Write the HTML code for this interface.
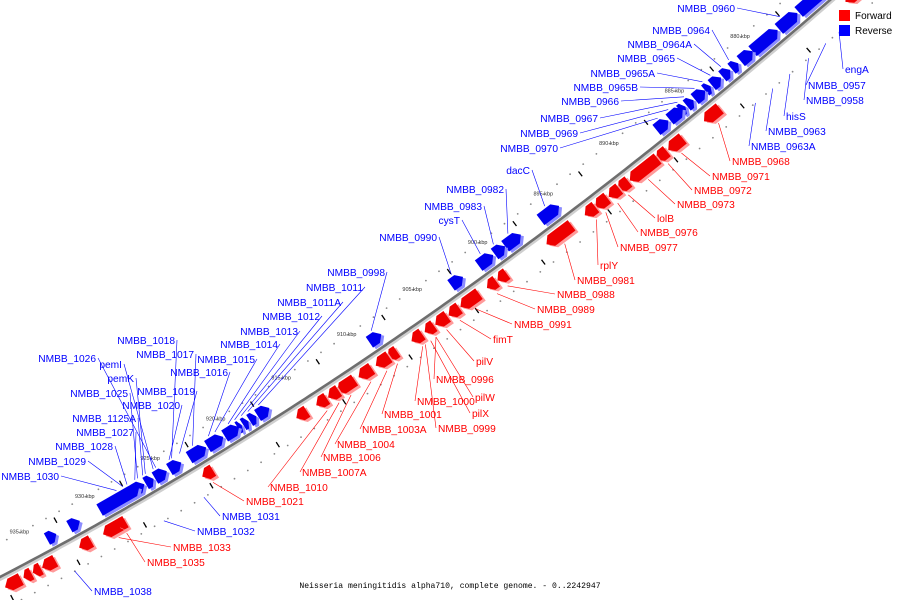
<!DOCTYPE html>
<html><head><meta charset="utf-8"><style>
html,body{margin:0;padding:0;background:#fff;}
svg{display:block;font-family:"Liberation Sans",sans-serif;}
</style></head><body>
<svg id="chart" width="900" height="600" viewBox="0 0 900 600" xmlns="http://www.w3.org/2000/svg">
<g id="backbone-layer"></g>
<g id="tick-layer"></g>
<g id="gene-layer"></g>
<g id="label-layer"></g>
<g>
<rect x="839" y="10" width="11" height="11" fill="#ff0000"/>
<text x="855" y="19" font-size="10" fill="#000">Forward</text>
<rect x="839" y="25" width="11" height="11" fill="#0000ff"/>
<text x="855" y="34" font-size="10" fill="#000">Reverse</text>
</g>
<text x="450" y="588" text-anchor="middle" font-size="8.1" font-family="Liberation Mono, monospace" fill="#000">Neisseria meningitidis alpha710, complete genome. - 0..2242947</text>
</svg>
<script>
// ---- data ----
const tickKbp = [880,885,890,895,900,905,910,915,920,925,930,935];
const revStart = [873.2,874.3,876.6,878.1,880.0,881.1,881.7,882.4,883.2,883.6,884.5,885.1,885.3,886.4,894.7,897.6,898.8,899.7,902.0,908.2,916.7,917.7,918.3,918.8,919.2,919.0,920.2,921.5,923.4,924.5,925.5,926.2,926.6,931.1,932.9];
const revEnd   = [874.2,876.5,878.0,880.0,880.9,881.6,882.3,883.1,883.6,884.4,885.0,885.5,886.3,887.3,896.1,898.8,899.6,900.8,902.9,909.1,917.6,918.2,918.7,919.1,919.7,920.1,921.4,922.8,924.3,925.4,926.1,927.0,929.6,931.9,933.6];
const fwdStart = [873.2,883.6,886.4,887.6,888.3,890.5,891.2,892.1,893.0,894.8,899.7,900.5,901.8,903.3,904.2,905.2,906.1,908.0,908.6,909.9,911.2,912.4,913.3,914.8,921.9,928.7,928.5,931.1,933.8,934.9,935.6,936.4];
const fwdEnd   = [874.1,884.8,887.5,888.4,890.4,891.3,892.0,893.0,893.8,896.7,900.4,901.2,903.2,904.1,905.1,905.9,906.9,908.7,909.6,910.9,912.5,913.2,914.1,915.6,922.7,930.2,929.1,932.0,934.8,935.5,936.2,937.6];
const revLeftLabels = ["NMBB_0960","NMBB_0964","NMBB_0964A","NMBB_0965","NMBB_0965A","NMBB_0965B","NMBB_0966","NMBB_0967","NMBB_0969","NMBB_0970","dacC","NMBB_0982","NMBB_0983","cysT","NMBB_0990","NMBB_0998","NMBB_1011","NMBB_1011A","NMBB_1012","NMBB_1013","NMBB_1014","NMBB_1018","NMBB_1017","NMBB_1015","NMBB_1016","NMBB_1026","pemI","pemK","NMBB_1025","NMBB_1019","NMBB_1020","NMBB_1125A","NMBB_1027","NMBB_1028","NMBB_1029","NMBB_1030"];
const revLeftTarget = [877.5,881.4,882.0,882.8,883.4,884.0,884.8,885.3,886.0,886.8,895.4,898.2,899.3,900.3,902.5,908.6,917.2,918.0,918.5,919.0,919.5,923.8,922.2,920.5,921.0,925.0,925.2,925.8,926.4,923.2,924.0,926.0,926.6,927.2,927.5,928.0];
const revLeftX = [735,710,692,675,655,638,619,598,578,558,530,504,482,460,437,385,363,341,320,298,278,175,194,255,228,96,122,134,128,195,180,136,134,113,86,59];
const revLeftY = [12,34,48,62,77,91,105,122,137,152,174,193,210,224,241,276,291,306,320,335,348,344,358,363,376,362,368,382,397,395,409,422,436,450,465,480];
const rightLabels = ["engA","NMBB_0957","NMBB_0958","hisS","NMBB_0963","NMBB_0963A","NMBB_1031","NMBB_1032","NMBB_1038","NMBB_0968","NMBB_0971","NMBB_0972","NMBB_0973","lolB","NMBB_0976","NMBB_0977","rplY","NMBB_0981","NMBB_0988","NMBB_0989","NMBB_0991","fimT","pilV","NMBB_0996","pilW","NMBB_1000","pilX","NMBB_1001","NMBB_0999","NMBB_1003A","NMBB_1004","NMBB_1006","NMBB_1007A","NMBB_1010","NMBB_1021","NMBB_1033","NMBB_1035"];
const rightIsRev = [1,1,1,1,1,1,1,1,1,0,0,0,0,0,0,0,0,0,0,0,0,0,0,0,0,0,0,0,0,0,0,0,0,0,0,0,0];
const rightTarget = [875.5,876.5,877.8,879.2,880.5,881.8,923.3,926.3,933.0,884.2,887.0,888.0,889.5,891.0,891.8,892.7,893.4,895.8,900.1,900.9,902.5,903.7,904.7,905.5,905.5,906.5,905.9,908.4,906.3,909.2,910.4,911.9,912.8,913.7,922.3,929.4,928.8];
const rightX = [845,808,806,786,768,751,222,197,94,732,712,694,677,657,640,620,600,577,557,537,514,493,476,436,475,417,472,384,438,362,337,323,302,270,246,173,147];
const rightY = [73,89,104,120,135,150,520,535,595,165,180,194,208,222,236,251,269,284,298,313,328,343,365,383,401,405,417,418,432,433,448,461,476,491,505,551,566];

// ---- axis functions ----
function kx(k){ return 760 - (k-880)*13.2; }
function cy(x){ return 577 - 0.000211*x*x - 0.520*x; }
function slope(x){ return -0.520 - 2*0.000211*x; }
function pt(k, off){
  const x=kx(k), y=cy(x), s=slope(x), n=Math.sqrt(1+s*s);
  const nx=-s/n, ny=1/n;
  return [x+nx*off, y+ny*off];
}
const NS="http://www.w3.org/2000/svg";
function mk(tag, attrs, parent){ const e=document.createElementNS(NS,tag); for(const k in attrs) e.setAttribute(k,attrs[k]); parent.appendChild(e); return e; }

// backbone
const bb=document.getElementById('backbone-layer');
let d1="",d2="";
for(let x=-20;x<=860;x+=5){ const y=cy(x); d1+=(x===-20?"M":"L")+x+","+y.toFixed(1); d2+=(x===-20?"M":"L")+(x+1)+","+(y+2).toFixed(1); }
const sh=mk('path',{d:d2,stroke:'#cfcfcf','stroke-width':3,fill:'none'},bb);


const bl=mk('path',{d:d1,stroke:'#6e6e6e','stroke-width':2.6,fill:'none'},bb);



// ticks
const tl=document.getElementById('tick-layer');
for(let k=872;k<=938;k++){
  [-30,30].forEach(o=>{ const p=pt(k,o); if(p[0]<0||p[0]>900||p[1]<0||p[1]>600) return;
    const c=mk('circle',{cx:p[0].toFixed(1),cy:p[1].toFixed(1),r:0.9,fill:'#888'},tl);
    
     });
}
for(let k=872.5;k<=938;k+=5){
  [-24,24].forEach(o=>{ const a=pt(k,o-3), b=pt(k,o+3);
    const l=mk('line',{x1:a[0],y1:a[1],x2:b[0],y2:b[1],stroke:'#000','stroke-width':1.3},tl);
    
     });
}
tickKbp.forEach(k=>{ const p=pt(k,-31);
  const t=mk('text',{x:p[0].toFixed(1),y:(p[1]+2).toFixed(1),'font-size':5.5,'text-anchor':'middle',fill:'#333'},tl);
  t.textContent=k+" kbp";
  
   });

// genes
const gl=document.getElementById('gene-layer');
function gene(s,e,rev){
  const m=(s+e)/2, x=kx(m), y=cy(x), sl=slope(x);
  const ang=Math.atan(sl)*180/Math.PI;
  const L=Math.abs(e-s)*13.2*Math.sqrt(1+sl*sl);
  const h=Math.min(6,L*0.5), y0=rev?-18:5, y1=rev?-5:18;
  let pts;
  if(rev){ pts=[[-L/2,y0],[L/2-h,y0],[L/2,(y0+y1)/2],[L/2-h,y1],[-L/2,y1]]; }
  else { pts=[[L/2,y0],[-L/2+h,y0],[-L/2,(y0+y1)/2],[-L/2+h,y1],[L/2,y1]]; }
  const g=mk('g',{transform:`translate(${x.toFixed(1)},${y.toFixed(1)}) rotate(${ang.toFixed(2)})`},gl);
  
  
  const ps=p=>p.map(q=>q[0].toFixed(1)+","+q[1].toFixed(1)).join(" ");
  mk('polygon',{points:ps(pts.map(q=>[q[0]+1.5,q[1]+3])),fill:rev?'#8c8cff':'#ff9a9a'},g);
  mk('polygon',{points:ps(pts),fill:rev?'#0000ee':'#ee0000'},g);
}
revStart.forEach((s,i)=>gene(s,revEnd[i],true));
fwdStart.forEach((s,i)=>gene(s,fwdEnd[i],false));

// labels
const ll=document.getElementById('label-layer');
revLeftLabels.forEach((t,i)=>{
  const p=pt(revLeftTarget[i],-20);
  const l=mk('line',{x1:revLeftX[i]+2,y1:revLeftY[i]-4,x2:p[0].toFixed(1),y2:p[1].toFixed(1),stroke:'#0000ff','stroke-width':0.6},ll);
  
  
  const tx=mk('text',{x:revLeftX[i],y:revLeftY[i],'text-anchor':'end','font-size':10.2,fill:'#0000ff'},ll);
  tx.textContent=t;
  
  
});
rightLabels.forEach((t,i)=>{
  const col=rightIsRev[i]?'#0000ff':'#ff0000';
  const p=pt(rightTarget[i],rightIsRev[i]?30:22);
  const l=mk('line',{x1:rightX[i]-2,y1:rightY[i]-4,x2:p[0].toFixed(1),y2:p[1].toFixed(1),stroke:col,'stroke-width':0.6},ll);
  
  
  const tx=mk('text',{x:rightX[i],y:rightY[i],'font-size':10.2,fill:col},ll);
  tx.textContent=t;
  
  
});
</script>
</body></html>
